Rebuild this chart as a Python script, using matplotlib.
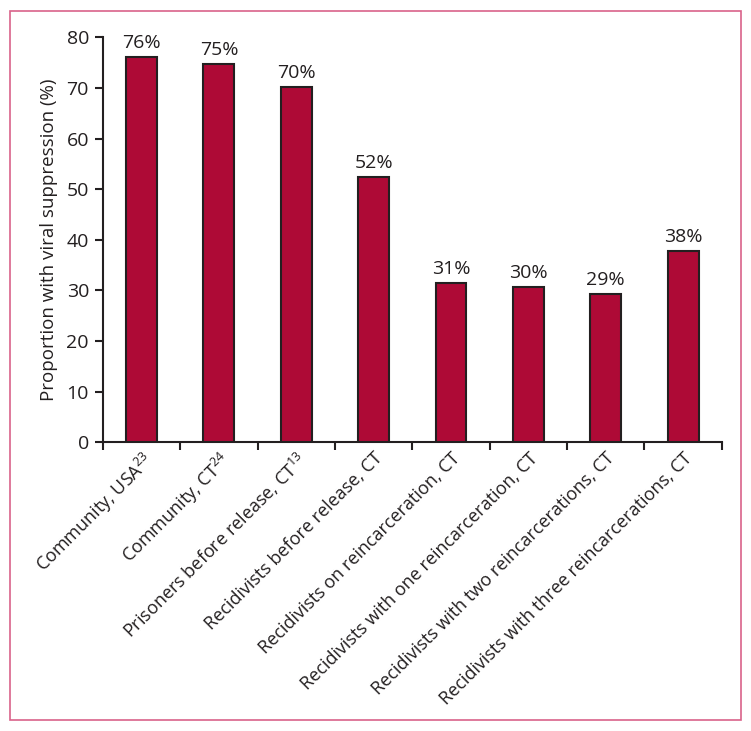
import matplotlib.pyplot as plt
import matplotlib.patches as mpatches
import numpy as np

plt.rcParams['font.family'] = ['Open Sans', 'DejaVu Sans']
plt.rcParams['mathtext.fontset'] = 'custom'
plt.rcParams['mathtext.rm'] = 'Open Sans'
plt.rcParams['mathtext.default'] = 'regular'

categories = ['Community, USA$^{23}$', 'Community, CT$^{24}$', 'Prisoners before release, CT$^{13}$',
              'Recidivists before release, CT', 'Recidivists on reincarceration, CT',
              'Recidivists with one reincarceration, CT', 'Recidivists with two reincarcerations, CT',
              'Recidivists with three reincarcerations, CT']
values = [76.1, 74.8, 70.2, 52.4, 31.5, 30.6, 29.3, 37.8]
value_labels = ['76%', '75%', '70%', '52%', '31%', '30%', '29%', '38%']

dark = '#231f20'
fig = plt.figure(figsize=(7.51, 7.31), dpi=100)
ax = fig.add_axes([0.137, 0.395, 0.824, 0.554])

x = np.arange(len(values))
ax.bar(x, values, width=0.4, color='#ae0a36', edgecolor=dark, linewidth=1.5, zorder=3)
for xi, v, lab in zip(x, values, value_labels):
    ax.text(xi, v + 1.0, lab, ha='center', va='bottom', fontsize=14, color=dark)

ax.set_xlim(-0.5, len(values) - 0.5)
ax.set_ylim(0, 80)
ax.set_yticks(np.arange(0, 81, 10))
ax.set_xticks(np.arange(-0.5, len(values), 1.0))
ax.set_xticklabels([])
ax.set_xticks(x, minor=True)
ax.set_xticklabels(categories, minor=True, rotation=45, ha='right', rotation_mode='anchor', fontsize=13, color=dark)
ax.tick_params(axis='x', which='minor', length=0, pad=5)
ax.tick_params(axis='x', which='major', length=6, width=1.5, color=dark)
ax.tick_params(axis='y', length=6, width=1.5, color=dark, labelsize=14, labelcolor=dark, pad=4)
for s in ['top', 'right']:
    ax.spines[s].set_visible(False)
for s in ['left', 'bottom']:
    ax.spines[s].set_color(dark)
    ax.spines[s].set_linewidth(1.5)
ax.set_ylabel('Proportion with viral suppression (%)', fontsize=13.5, color=dark, labelpad=6)

fig.patches.append(mpatches.Rectangle((10 / 751, 11 / 731), 731 / 751, 709 / 731, transform=fig.transFigure,
                                      fill=False, edgecolor='#d9628a', linewidth=1.2))

fig.savefig('out.png', dpi=100)
